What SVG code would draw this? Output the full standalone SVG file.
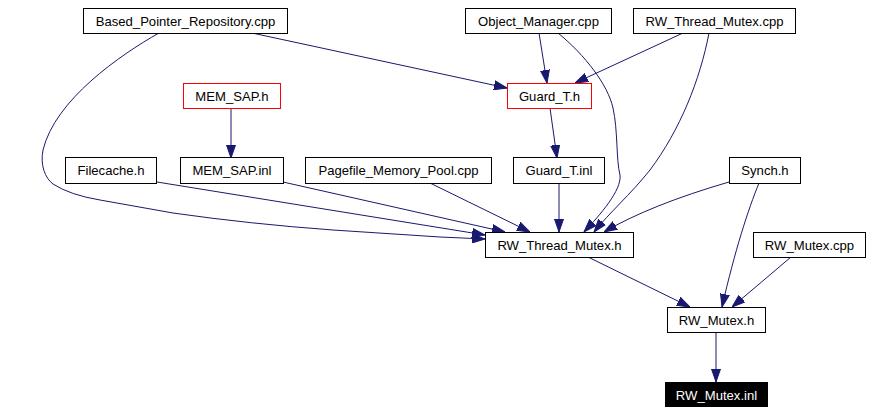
<svg xmlns="http://www.w3.org/2000/svg" width="872" height="413" viewBox="0 0 872 413">
<style>
.n rect{fill:#fff;stroke:#000;stroke-width:1}
.n.r rect{stroke:#f00}
.n.k rect{fill:#000;stroke:#000}
.n text{font-family:"Liberation Sans",Arial,sans-serif;font-size:13.1px;text-anchor:middle;fill:#000}
.n.k text{fill:#fff}
#edges path{fill:none;stroke:#191970;stroke-width:1;marker-end:url(#ah)}
</style>
<defs>
<marker id="ah" markerUnits="userSpaceOnUse" markerWidth="13" markerHeight="10" viewBox="0 0 13 10" refX="13" refY="5" orient="auto">
<path d="M0,0.5 L13,5 L0,9.5 Z" fill="#191970" stroke="#191970"/>
</marker>
</defs>
<rect width="872" height="413" fill="#fff"/>
<g id="edges">
<path d="M159,33 C120,55 55,100 43,150 C40,165 45,178 53,184 Q70,195 100,200 L173,213 Q250,224 333,230 L440,237 L485,239"/>
<path d="M252,33 L507,88"/>
<path d="M231,108 L231,158"/>
<path d="M157,182 L485,235"/>
<path d="M283,182 L505,232"/>
<path d="M430,183 L530,232"/>
<path d="M559,183 L559,232"/>
<path d="M550,108 L557,158"/>
<path d="M539,33 L547,83"/>
<path d="M558,33 C585,55 608,85 613,108 C618,130 616,160 620,175 C622,190 600,215 584,232"/>
<path d="M683,33 L575,83"/>
<path d="M709,33 C700,80 680,130 650,170 C630,195 610,212 594,232"/>
<path d="M729,182 Q650,205 604,232"/>
<path d="M759,183 C748,210 735,250 722,307"/>
<path d="M791,257 L732,307"/>
<path d="M588,257 L690,307"/>
<path d="M716,332 L716,382"/>
</g>
<g id="n_bpr" class="n"><rect x="83.5" y="8.5" width="204" height="25"/><text x="185.5" y="25.5">Based_Pointer_Repository.cpp</text></g>
<g id="n_om" class="n"><rect x="465.5" y="8.5" width="146" height="25"/><text x="538.5" y="25.5">Object_Manager.cpp</text></g>
<g id="n_rwtmcpp" class="n"><rect x="633.5" y="8.5" width="162" height="25"/><text x="714.5" y="25.5">RW_Thread_Mutex.cpp</text></g>
<g id="n_memsaph" class="n r"><rect x="183.5" y="83.5" width="97" height="25"/><text x="232" y="100.5">MEM_SAP.h</text></g>
<g id="n_guardh" class="n r"><rect x="507.5" y="83.5" width="84" height="25"/><text x="549.5" y="100.5">Guard_T.h</text></g>
<g id="n_filecache" class="n"><rect x="65.5" y="157.5" width="91" height="26"/><text x="111" y="175">Filecache.h</text></g>
<g id="n_memsapinl" class="n"><rect x="180.5" y="157.5" width="103" height="26"/><text x="232" y="175">MEM_SAP.inl</text></g>
<g id="n_pagefile" class="n"><rect x="305.5" y="157.5" width="186" height="26"/><text x="398.5" y="175">Pagefile_Memory_Pool.cpp</text></g>
<g id="n_guardinl" class="n"><rect x="513.5" y="157.5" width="91" height="26"/><text x="559" y="175">Guard_T.inl</text></g>
<g id="n_synch" class="n"><rect x="729.5" y="157.5" width="71" height="26"/><text x="765" y="175">Synch.h</text></g>
<g id="n_rwtmh" class="n"><rect x="485.5" y="232.5" width="148" height="25"/><text x="559.5" y="249.5">RW_Thread_Mutex.h</text></g>
<g id="n_rwmcpp" class="n"><rect x="753.5" y="232.5" width="112" height="25"/><text x="809.5" y="249.5">RW_Mutex.cpp</text></g>
<g id="n_rwmh" class="n"><rect x="667.5" y="307.5" width="98" height="25"/><text x="716.5" y="324.5">RW_Mutex.h</text></g>
<g id="n_rwminl" class="n k"><rect x="665.5" y="382.5" width="102" height="24"/><text x="716.5" y="399.5">RW_Mutex.inl</text></g>
</svg>
